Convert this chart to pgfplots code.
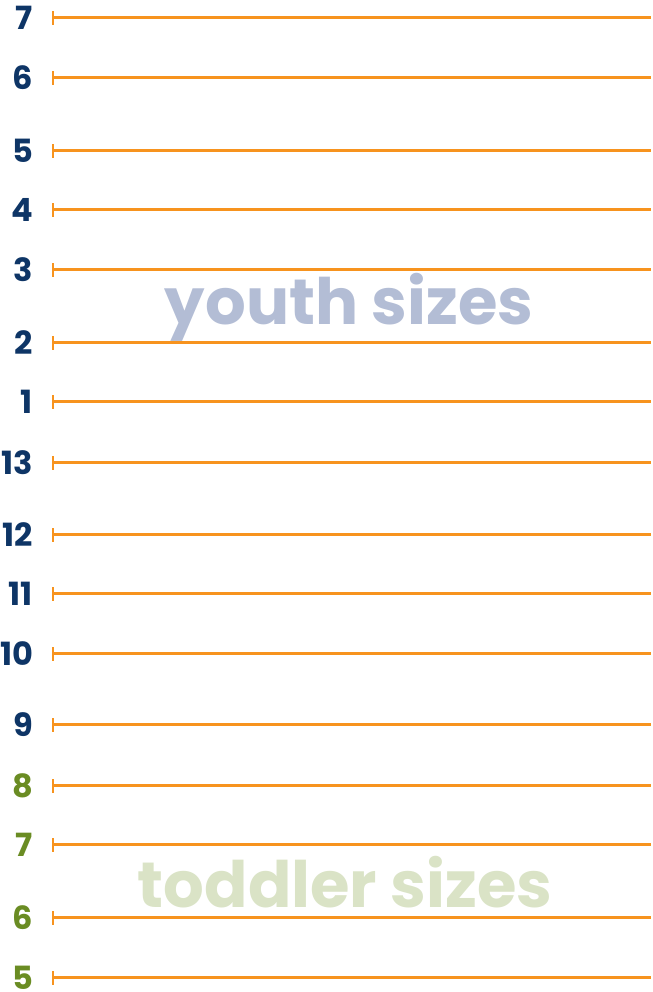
\documentclass[border=0pt]{standalone}
\usepackage{pgfplots}
\pgfplotsset{compat=1.18}
\usepackage{fontspec}
\setmainfont{Poppins}
\definecolor{lineor}{HTML}{F7931E}
\definecolor{navy}{HTML}{0E3566}
\definecolor{olive}{HTML}{6A8C23}
\definecolor{youthc}{HTML}{B3BDD5}
\definecolor{toddc}{HTML}{DAE3C6}
\newcommand{\lbl}[3]{\node[font=\fontsize{32}{32}\selectfont\bfseries, text=#3, anchor=east, inner sep=0pt] at (axis cs:31,-#1) {#2};}
\begin{document}
\begin{tikzpicture}
\begin{axis}[
  scale only axis, width=649pt, height=992pt,
  xmin=0, xmax=649, ymin=-992, ymax=0,
  hide axis, clip=false,
]
\path (axis cs:0,-992) rectangle (axis cs:649,0);
\pgfplotsinvokeforeach{18,78,151,210,270,343,402,463,535,594,654,725,786,845,918,978}{
  \addplot[lineor, line width=3pt, mark=|, mark indices={1},
    mark options={line width=2.6pt, scale=3.4, solid}] coordinates {(51,-#1) (649,-#1)};
}
\node[font=\fontsize{64}{64}\selectfont\bfseries, text=youthc, anchor=base, inner sep=0pt] at (axis cs:347,-325) {youth sizes};
\node[font=\fontsize{64}{64}\selectfont\bfseries, text=toddc, anchor=base, inner sep=0pt] at (axis cs:343,-908) {toddler sizes};
\lbl{18}{7}{navy}
\lbl{78}{6}{navy}
\lbl{151}{5}{navy}
\lbl{210}{4}{navy}
\lbl{270}{3}{navy}
\lbl{343}{2}{navy}
\lbl{402}{1}{navy}
\lbl{463}{13}{navy}
\lbl{535}{12}{navy}
\lbl{594}{11}{navy}
\lbl{654}{10}{navy}
\lbl{725}{9}{navy}
\lbl{786}{8}{olive}
\lbl{845}{7}{olive}
\lbl{918}{6}{olive}
\lbl{978}{5}{olive}
\end{axis}
\end{tikzpicture}
\end{document}
